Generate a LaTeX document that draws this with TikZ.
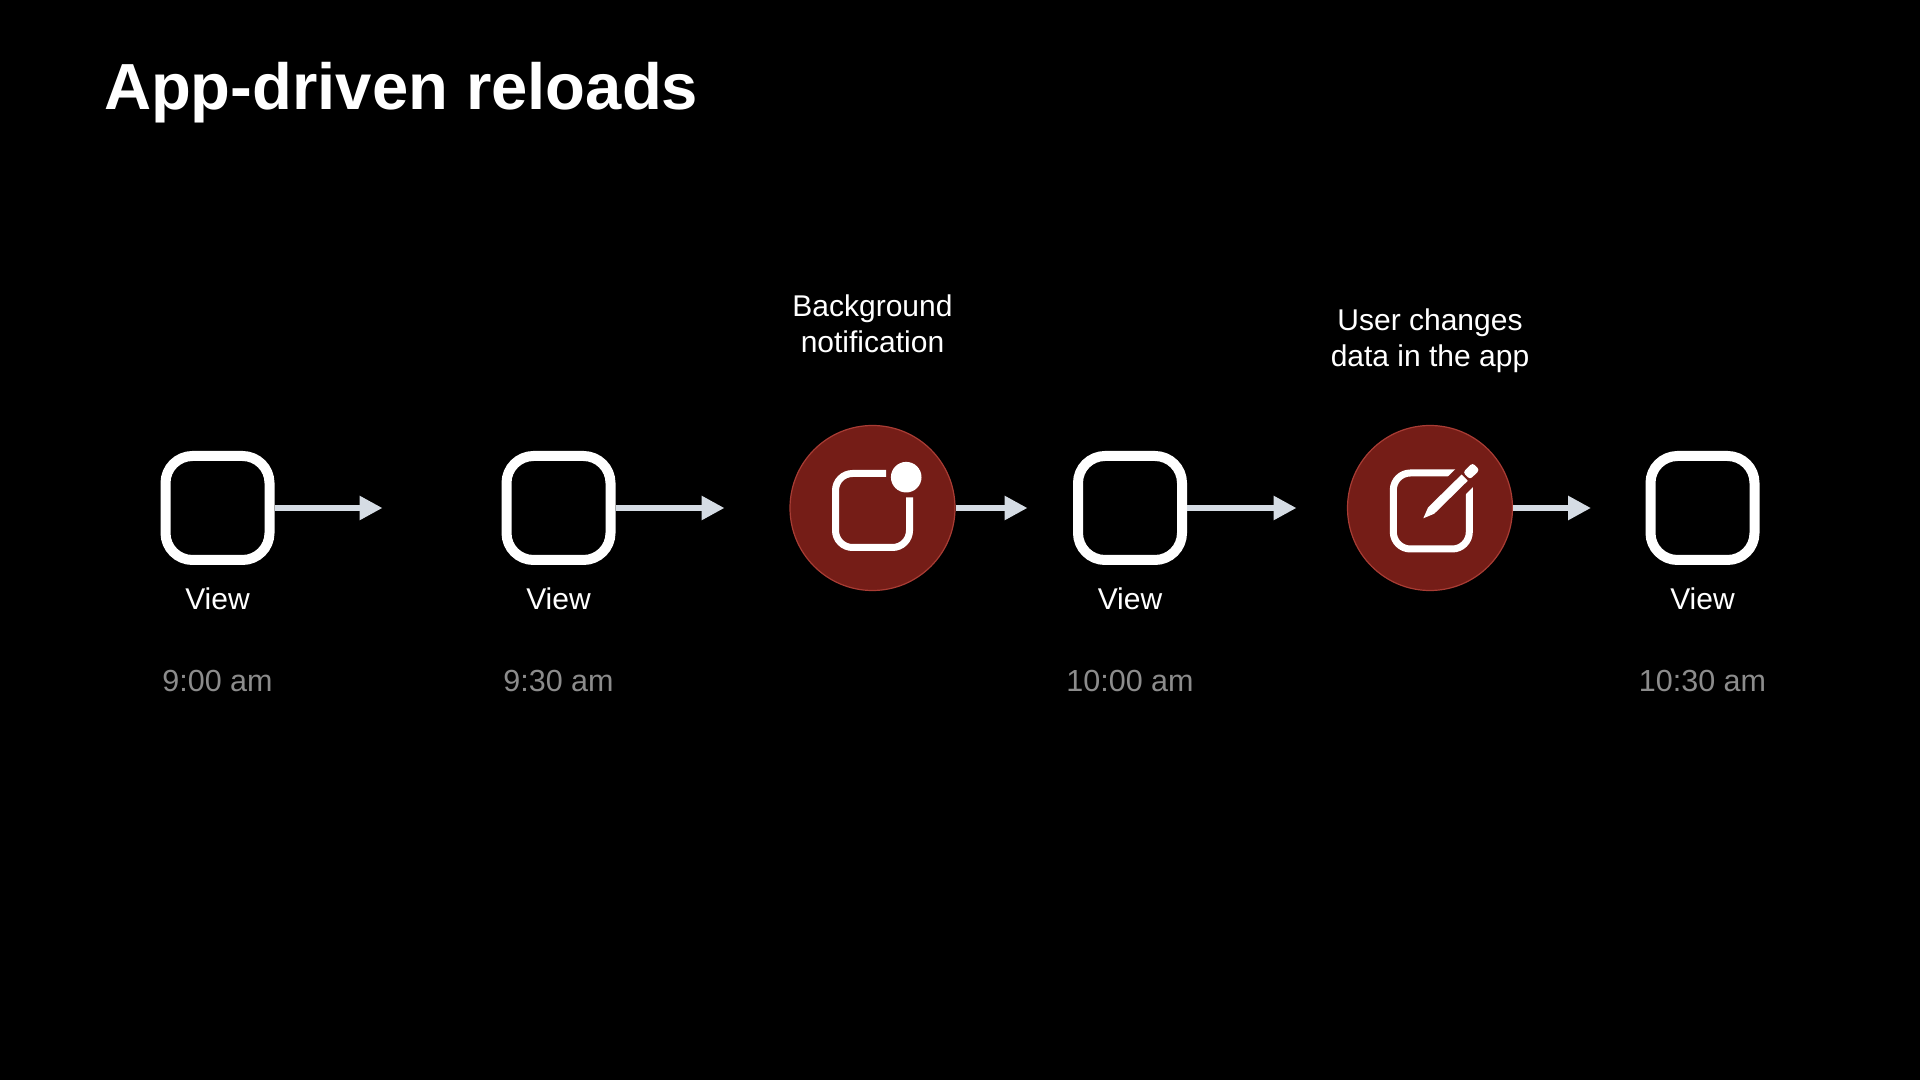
\documentclass[tikz,border=0pt]{standalone}
\usepackage{fontspec}
\setmainfont{Liberation Sans}
\usetikzlibrary{arrows.meta}
\definecolor{arrowgray}{HTML}{D5DCE4}
\definecolor{timegray}{HTML}{8C8C8C}
\definecolor{badgered}{HTML}{751D17}
\definecolor{badgeline}{HTML}{A83C34}
\begin{document}
\begin{tikzpicture}[x=1pt, y=1pt,
		view/.style = {draw=white, line width=10pt, rounded corners=27pt, minimum size=104pt, inner sep=0pt},
		badge/.style = {draw=badgeline, fill=badgered, line width=1.2pt, circle, minimum size=165pt, inner sep=0pt},
		flow/.style = {draw=arrowgray, line width=6.5pt, -{Triangle[length=23pt, width=23pt]}},
		icon/.style = {draw=white, line width=7pt, rounded corners=17pt, line cap=butt},
		txt/.style = {text=white, font=\fontsize{30}{36}\selectfont, align=center},
		time/.style = {text=timegray, font=\fontsize{30.5}{36}\selectfont}]
		\useasboundingbox (0,0) rectangle (1920,1079.6);
		\fill[black] (-3,-3) rectangle (1923,1083);
		\node[text=white, font=\fontsize{65.2}{78}\selectfont\bfseries, anchor=base west] (title) at (100.5,969.8) {App-driven reloads};
		\node[view] (v1) at (217.5,571.6) {};
		\node[view] (v2) [right of=v1, node distance=341pt] {};
		\node[badge] (b1) [right of=v2, node distance=314pt] {};
		\node[view] (v3) [right of=b1, node distance=257.5pt] {};
		\node[badge] (b2) [right of=v3, node distance=300pt] {};
		\node[view] (v4) [right of=b2, node distance=272.5pt] {};
		\node[coordinate] (e1) [right of=v1, node distance=165pt] {};
		\node[coordinate] (e2) [right of=v2, node distance=166pt] {};
		\node[coordinate] (e3) [right of=b1, node distance=155pt] {};
		\node[coordinate] (e4) [right of=v3, node distance=166.5pt] {};
		\node[coordinate] (e5) [right of=b2, node distance=161pt] {};
		\draw[flow] (v1) -- (e1);
		\draw[flow] (v2) -- (e2);
		\draw[flow] (b1) -- (e3);
		\draw[flow] (v3) -- (e4);
		\draw[flow] (b2) -- (e5);
		\node[txt] (l1) [below of=v1, node distance=91pt] {View};
		\node[txt] (l2) [below of=v2, node distance=91pt] {View};
		\node[txt] (l3) [below of=v3, node distance=91pt] {View};
		\node[txt] (l4) [below of=v4, node distance=91pt] {View};
		\node[time] (t1) [below of=v1, node distance=173pt] {9:00 am};
		\node[time] (t2) [below of=v2, node distance=173pt] {9:30 am};
		\node[time] (t3) [below of=v3, node distance=173pt] {10:00 am};
		\node[time] (t4) [below of=v4, node distance=173pt] {10:30 am};
		\node[txt] (n1) [above of=b1, node distance=184pt] {Background\\notification};
		\node[txt] (n2) [above of=b2, node distance=167.5pt] {User changes\\data in the app};
		% notification icon
		\begin{scope}[shift={(b1.center)}, yshift=-2.5pt]
			\draw[icon] (13.7,37) -- (-37,37) -- (-37,-37) -- (37,-37) -- (37,13);
			\fill[white] (33.7,33.3) circle (15.3);
		\end{scope}
		% edit icon
		\begin{scope}[shift={(b2.center)}, xshift=1.3pt, yshift=-3pt]
			\draw[icon] (28,38) -- (-38,38) -- (-38,-38) -- (38,-38) -- (38,28);
			\begin{scope}[shift={(-8,-7.3)}, rotate=44.5]
				\draw[badgered, line width=25pt] (25,0) -- (72,0);
				\fill[white] (0,0) -- (11,4.4) -- (58,4.4) -- (58,-4.4) -- (11,-4.4) -- cycle;
				\fill[white, rounded corners=3pt] (60.5,-5) rectangle (74,5);
			\end{scope}
		\end{scope}
	\end{tikzpicture}
\end{document}
